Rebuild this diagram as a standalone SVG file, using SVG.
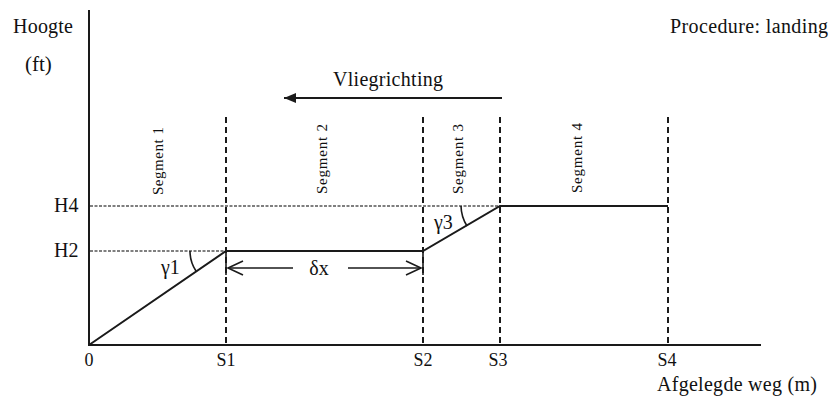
<svg xmlns="http://www.w3.org/2000/svg" width="834" height="397" viewBox="0 0 834 397">
<defs>
<style>
text{font-family:"Liberation Serif","Times New Roman",serif;fill:#111}
.lbl{font-size:20px}
.tick{font-size:18px;text-anchor:middle}
.seg{font-size:15px;text-anchor:middle;dominant-baseline:central}
.axis{stroke:#1a1a1a;stroke-width:2;fill:none}
.dash{stroke:#1a1a1a;stroke-width:2;stroke-dasharray:6 4;fill:none}
.dot{stroke:#555;stroke-width:1.6;stroke-dasharray:3 1.5;fill:none}
.prof{stroke:#1a1a1a;stroke-width:2;fill:none}
.thin{stroke:#1a1a1a;stroke-width:1.6;fill:none}
</style>
<marker id="solidHead" markerWidth="12" markerHeight="10" refX="0" refY="5" orient="auto" markerUnits="userSpaceOnUse">
<path d="M12,0 L0,5 L12,10 Z" fill="#1a1a1a"/>
</marker>
</defs>
<g id="axes">
<line class="axis" x1="89" y1="10" x2="89" y2="346"/>
<line class="axis" x1="88" y1="345" x2="761" y2="345"/>
</g>
<g id="guides">
<line class="dot" x1="90" y1="206" x2="500" y2="206"/>
<line class="dot" x1="90" y1="251" x2="226" y2="251"/>
<line class="dash" x1="226" y1="117" x2="226" y2="345"/>
<line class="dash" x1="423" y1="117" x2="423" y2="345"/>
<line class="dash" x1="500" y1="117" x2="500" y2="345"/>
<line class="dash" x1="668" y1="117" x2="668" y2="345"/>
<line class="thin" x1="226" y1="251" x2="226" y2="275"/>
<line class="thin" x1="423" y1="251" x2="423" y2="275"/>
</g>
<g id="profile">
<polyline class="prof" points="89,345 226,251 423,251 500,206 668,206"/>
</g>
<g id="connectors">
<line class="prof" x1="284" y1="98" x2="502" y2="98" marker-start="url(#solidHead)"/>
<g id="dx-arrows">
<line class="thin" x1="228" y1="268" x2="293" y2="268"/>
<polyline class="thin" points="243,261 228,268 243,275"/>
<line class="thin" x1="348" y1="268" x2="421" y2="268"/>
<polyline class="thin" points="406,261 421,268 406,275"/>
</g>
</g>
<g id="angles">
<path class="thin" d="M190,251 A36,36 0 0 0 196,271"/>
<path class="thin" d="M461,206 A39,39 0 0 0 467,226"/>
</g>
<g id="labels">
<text class="lbl" x="13" y="33" textLength="60" lengthAdjust="spacing">Hoogte</text>
<text class="lbl" x="25" y="71" style="font-size:21px">(ft)</text>
<text class="lbl" x="670" y="33" textLength="158" lengthAdjust="spacing">Procedure: landing</text>
<text class="lbl" x="333" y="86" textLength="110" lengthAdjust="spacing">Vliegrichting</text>
<text class="lbl" x="657" y="391" textLength="160" lengthAdjust="spacing">Afgelegde weg (m)</text>
<text class="lbl" x="54" y="212">H4</text>
<text class="lbl" x="54" y="257">H2</text>
<text class="lbl" x="161" y="274">γ1</text>
<text class="lbl" x="434" y="229">γ3</text>
<text class="lbl" x="319" y="275" style="text-anchor:middle">δx</text>
<text class="tick" x="89" y="366">0</text>
<text class="tick" x="226" y="366">S1</text>
<text class="tick" x="423" y="366">S2</text>
<text class="tick" x="498" y="366">S3</text>
<text class="tick" x="667" y="366">S4</text>
</g>
<g id="segments">
<text class="seg" transform="translate(158,161) rotate(-90)" textLength="68" lengthAdjust="spacing">Segment 1</text>
<text class="seg" transform="translate(322,159) rotate(-90)" textLength="70" lengthAdjust="spacing">Segment 2</text>
<text class="seg" transform="translate(458,159) rotate(-90)" textLength="70" lengthAdjust="spacing">Segment 3</text>
<text class="seg" transform="translate(577,158) rotate(-90)" textLength="70" lengthAdjust="spacing">Segment 4</text>
</g>
</svg>
